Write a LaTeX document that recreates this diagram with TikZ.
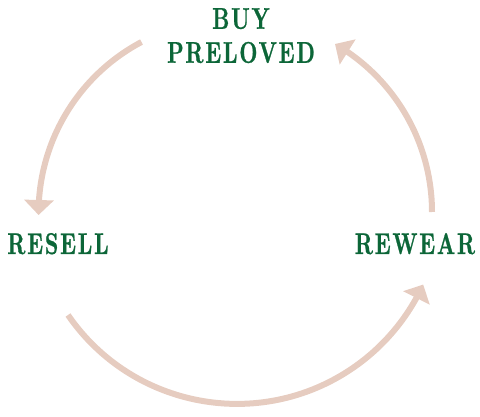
\documentclass[tikz,border=0pt]{standalone}
\usepackage{fontspec}
\newfontfamily\labfont{lmroman10-bold.otf}[FakeStretch=0.70,LetterSpace=6,FakeBold=0.8]
\usetikzlibrary{arrows.meta,bending}
\definecolor{arcc}{RGB}{230,204,192}
\definecolor{labc}{RGB}{12,102,56}
\begin{document}
\begin{tikzpicture}[x=1pt,y=-1pt,
  lab/.style={font=\labfont\fontsize{30}{34}\selectfont, text=labc, inner sep=0pt, text depth=0pt, align=center},
  cyc/.style={draw=arcc, line width=6pt, -{Triangle[width=29pt,length=15pt,flex]}}]
\useasboundingbox (0,0) rectangle (480,417);
\node[lab, anchor=south] (buy) at (241,63) {BUY\\PRELOVED};
\node[lab, anchor=base] (resell) at (58,254) {RESELL};
\node[lab, anchor=base] (rewear) at (415,254) {REWEAR};
\coordinate (s1) at (141.5,42);
\coordinate (s2) at (432,212);
\coordinate (s3) at (68,315);
\draw[cyc] (s1) arc[start angle=242.1, end angle=179.4, radius=193.5];
\draw[cyc] (s2) arc[start angle=0, end angle=-60, radius=194];
\draw[cyc] (s3) arc[start angle=145.5, end angle=24.7, radius=205];
\end{tikzpicture}
\end{document}
